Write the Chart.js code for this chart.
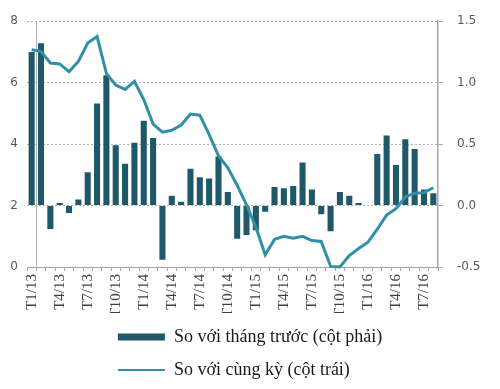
<!DOCTYPE html>
<html>
<head>
<meta charset="utf-8">
<script src="https://cdn.jsdelivr.net/npm/chart.js@4"></script>
<style>
  html, body { margin: 0; padding: 0; background: #fff; }
  #wrap { width: 500px; height: 389px; }
</style>
</head>
<body>
<div id="wrap"><canvas id="cpi-chart"></canvas></div>
<script>
var months = [
  "T1/13", "T2/13", "T3/13", "T4/13", "T5/13", "T6/13", "T7/13", "T8/13", "T9/13", "T10/13", "T11/13", "T12/13",
  "T1/14", "T2/14", "T3/14", "T4/14", "T5/14", "T6/14", "T7/14", "T8/14", "T9/14", "T10/14", "T11/14", "T12/14",
  "T1/15", "T2/15", "T3/15", "T4/15", "T5/15", "T6/15", "T7/15", "T8/15", "T9/15", "T10/15", "T11/15", "T12/15",
  "T1/16", "T2/16", "T3/16", "T4/16", "T5/16", "T6/16", "T7/16", "T8/16"
];

// so voi thang truoc (cot phai)
var momValues = [
  1.25, 1.32, -0.19, 0.02, -0.06, 0.05, 0.27, 0.83, 1.06, 0.49, 0.34, 0.51,
  0.69, 0.55, -0.44, 0.08, 0.03, 0.30, 0.23, 0.22, 0.40, 0.11, -0.27, -0.24,
  -0.20, -0.05, 0.15, 0.14, 0.16, 0.35, 0.13, -0.07, -0.21, 0.11, 0.08, 0.02,
  0.00, 0.42, 0.57, 0.33, 0.54, 0.46, 0.13, 0.10
];

// so voi cung ky (cot trai)
var yoyValues = [
  7.07, 7.02, 6.64, 6.61, 6.36, 6.69, 7.29, 7.50, 6.30, 5.92, 5.78, 6.04,
  5.45, 4.65, 4.39, 4.45, 4.62, 4.98, 4.94, 4.31, 3.62, 3.23, 2.66, 2.02,
  1.30, 0.40, 0.90, 1.00, 0.94, 1.00, 0.86, 0.83, 0.02, 0.00, 0.37, 0.60,
  0.81, 1.23, 1.69, 1.90, 2.28, 2.40, 2.42, 2.58
];

var leftTicks = [0, 2, 4, 6, 8];
var rightTicks = [-0.5, 0, 0.5, 1.0, 1.5];

var seriesNames = ["So với tháng trước (cột phải)", "So với cùng kỳ (cột trái)"];

// vertical axis line sits between the first and second month
var crossLine = {
  id: 'crossLine',
  beforeDatasetsDraw: function(chart) {
    var x = chart.scales.x, area = chart.chartArea, ctx = chart.ctx;
    var px = Math.round((x.getPixelForValue(0) + x.getPixelForValue(1)) / 2) + 0.5;
    ctx.save();
    ctx.strokeStyle = '#b5b5b5';
    ctx.lineWidth = 1;
    ctx.beginPath();
    ctx.moveTo(px, area.top);
    ctx.lineTo(px, area.bottom);
    ctx.stroke();
    ctx.restore();
  }
};

// left align the two legend rows
var legendRows = {
  id: 'legendRows',
  afterUpdate: function(chart) {
    var lw = chart.legend.lineWidths;
    var m = Math.max.apply(null, lw);
    for (var i = 0; i < lw.length; i++) lw[i] = m;
  }
};

new Chart(document.getElementById("cpi-chart"), {
  type: 'bar',
  data: {
    labels: months,
    datasets: [
      {
        type: 'bar',
        label: seriesNames[0],
        data: momValues,
        yAxisID: 'y1',
        backgroundColor: '#1f5868',
        borderWidth: 0,
        barPercentage: 0.65,
        categoryPercentage: 1.0,
        order: 1
      },
      {
        type: 'line',
        label: seriesNames[1],
        data: yoyValues,
        yAxisID: 'y',
        borderColor: '#3190a8',
        backgroundColor: '#3190a8',
        borderWidth: 3,
        pointRadius: 0,
        pointBorderWidth: 2,
        tension: 0,
        clip: 4,
        order: 0
      }
    ]
  },
  options: {
    responsive: true,
    maintainAspectRatio: false,
    animation: false,
    layout: { padding: { top: 12, bottom: 0, left: 0, right: 0 } },
    plugins: {
      tooltip: { enabled: false },
      legend: {
        position: 'bottom',
        labels: {
          usePointStyle: true,
          pointStyleWidth: 47,
          boxHeight: 7,
          padding: 15,
          color: '#1a1a1a',
          font: { family: 'Liberation Serif', size: 18 },
          generateLabels: function(chart) {
            var items = Chart.defaults.plugins.legend.labels.generateLabels(chart);
            items.forEach(function(it) {
              if (it.datasetIndex === 0) { it.pointStyle = 'rect'; it.lineWidth = 0; }
              else { it.pointStyle = 'line'; it.lineWidth = 2; }
            });
            return items.sort(function(a, b) { return a.datasetIndex - b.datasetIndex; });
          }
        }
      }
    },
    scales: {
      x: {
        offset: true,
        grid: { display: true, drawOnChartArea: false, drawTicks: true, tickLength: 4, offset: true, color: '#a6a6a6' },
        border: { display: true, color: '#a6a6a6' },
        ticks: {
          autoSkip: false,
          minRotation: 90,
          maxRotation: 90,
          padding: 3,
          color: '#404040',
          font: { family: 'Liberation Serif', size: 15 },
          callback: function(v, i) { return i % 3 === 0 ? months[i] : ''; }
        },
        afterFit: function(s) { s.height = 46; }
      },
      y: {
        position: 'left',
        min: 0,
        max: 8,
        afterBuildTicks: function(s) { s.ticks = leftTicks.map(function(v) { return { value: v }; }); },
        grid: { display: false, drawTicks: false },
        border: { display: false },
        ticks: { padding: 9, color: '#595959', font: { family: 'DejaVu Sans', size: 12 } },
        afterFit: function(s) { s.width = 27; }
      },
      y1: {
        position: 'right',
        min: -0.5,
        max: 1.5,
        afterBuildTicks: function(s) { s.ticks = rightTicks.map(function(v) { return { value: v }; }); },
        grid: {
          drawOnChartArea: true,
          drawTicks: true,
          tickLength: 5,
          color: '#b4b4b4',
          tickColor: '#a6a6a6'
        },
        border: { display: true, color: '#a6a6a6', width: 1.5, dash: [2, 2] },
        ticks: {
          padding: 14,
          color: '#595959',
          font: { family: 'DejaVu Sans', size: 12 },
          callback: function(v) { return v.toFixed(1); }
        },
        afterFit: function(s) { s.width = 62; }
      }
    }
  },
  plugins: [crossLine, legendRows]
});
</script>
</body>
</html>
